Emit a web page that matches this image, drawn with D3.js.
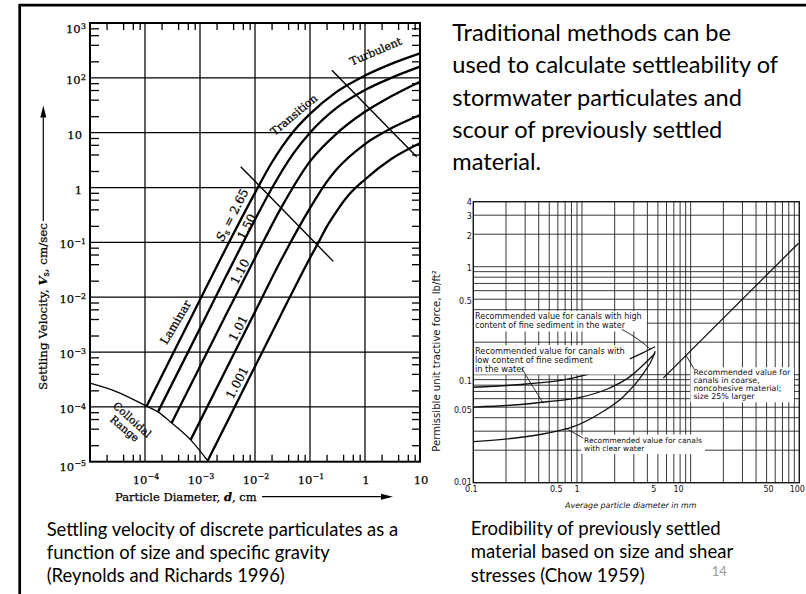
<!DOCTYPE html>
<html>
<head>
<meta charset="utf-8">
<script src="https://cdn.jsdelivr.net/npm/d3@7/dist/d3.min.js"></script>
<style>
  html, body { margin: 0; padding: 0; background: #fff; }
  svg { display: block; }
</style>
</head>
<body>
<svg id="slide" width="806" height="594" xmlns="http://www.w3.org/2000/svg"></svg>
<script>
// ---------- Settling velocity: particle diameter d (cm) vs Vs (cm/s) ----------
const settleXTicks = [1e-4, 1e-3, 1e-2, 1e-1, 1, 10];
const settleXTickBase = ["10", "10", "10", "10", "1", "10"];
const settleXTickExp = ["−4", "−3", "−2", "−1", "", ""];
const settleYTicks = [1e3, 1e2, 10, 1, 1e-1, 1e-2, 1e-3, 1e-4, 1e-5];
const settleYTickBase = ["10", "10", "10", "1", "10", "10", "10", "10", "10"];
const settleYTickExp = ["3", "2", "", "", "−1", "−2", "−3", "−4", "−5"];
const gravityNames = ["2.65", "1.50", "1.10", "1.01", "1.001"];
const vsGravity265 = [[1.07e-4, 1.03e-4], [3e-4, 8.1e-4], [1e-3, 9.0e-3], [3e-3, 0.08], [0.01, 0.8], [0.02, 2.8], [0.05, 10.5], [0.1, 22], [0.3, 55], [1, 110], [3, 180], [10, 280]];
const vsGravity150 = [[1.72e-4, 8.1e-5], [1e-3, 2.7e-3], [3e-3, 0.0245], [0.01, 0.26], [0.02, 0.95], [0.05, 4.2], [0.1, 10], [0.3, 28], [1, 60], [3, 100], [10, 160]];
const vsGravity110 = [[3.05e-4, 5.1e-5], [1e-3, 5.45e-4], [3e-3, 4.9e-3], [0.01, 0.052], [0.03, 0.43], [0.1, 3.0], [0.3, 9.5], [1, 24], [3, 46], [10, 85]];
const vsGravity101 = [[6.76e-4, 2.5e-5], [3e-3, 4.9e-4], [0.01, 5.4e-3], [0.03, 0.048], [0.1, 0.42], [0.2, 1.25], [0.3, 2.1], [1, 6.2], [3, 12], [10, 21]];
const vsGravity1001 = [[1.38e-3, 1.04e-5], [0.01, 5.45e-4], [0.03, 4.9e-3], [0.1, 0.052], [0.15, 0.11], [0.2, 0.19], [0.3, 0.36], [0.5, 0.72], [1, 1.4], [3, 3.3], [10, 6.4]];
const colloidalEdge = [[1e-5, 2.7e-4], [3e-5, 1.9e-4], [1.07e-4, 1.03e-4], [1.72e-4, 8.1e-5], [3.05e-4, 5.1e-5], [6.76e-4, 2.5e-5], [1.38e-3, 1.04e-5]];
const laminarLimit = [[0.0055, 2.4], [0.265, 0.045]];
const turbulentLimit = [[0.25, 138], [8.7, 3.65]];

// ---------- Permissible unit tractive force (lb/ft²) vs average diameter (mm) ----------
const forceXTicks = [0.1, 0.5, 1, 5, 10, 50, 100];
const forceXTickLabels = ["0.1", "0.5", "1", "5", "10", "50", "100"];
const forceYTicks = [4, 3, 2, 1, 0.5, 0.1, 0.05, 0.01];
const forceYTickLabels = ["4", "3", "2", "1", "0.5", "0.1", "0.05", "0.01"];
const highFineSediment = [[0.1, 0.0765], [0.233, 0.0803], [0.674, 0.0894], [1.37, 0.1067], [2.4, 0.132], [3.67, 0.16], [4.71, 0.1816]];
const lowFineSediment = [[0.1, 0.0502], [0.233, 0.0524], [0.474, 0.0562], [0.96, 0.0617], [1.69, 0.0733], [2.77, 0.096], [4.24, 0.142], [4.71, 0.158]];
const clearWater = [[0.1, 0.024], [0.233, 0.0258], [0.474, 0.0287], [0.833, 0.033], [1.47, 0.044], [2.4, 0.0626], [3.67, 0.103], [4.53, 0.147], [4.71, 0.165]];
const coarseNoncohesive = [[5.6, 0.093], [98.4, 1.65]];

// ---------- slide text ----------
const bodyLines = ["Traditional methods can be", "used to calculate settleability of", "stormwater particulates and", "scour of previously settled", "material."];
const captionLeft = ["Settling velocity of discrete particulates as a", "function of size and specific gravity", "(Reynolds and Richards 1996)"];
const captionRight = ["Erodibility of previously settled", "material based on size and shear", "stresses (Chow 1959)"];
const pageNumber = "14";

const svg = d3.select("#slide");
svg.append("rect").attr("width", 806).attr("height", 594).attr("fill", "#fff");

// top and left rules of the slide
svg.append("path").attr("d", "M19.7,594V5.2H806")
  .attr("fill", "none").attr("stroke", "#000").attr("stroke-width", 2.7);

// lays out a block of lines, sizing the font so line `ref` spans `width` px
function fitLines(parent, lines, x, y0, step, family, ref, width, attrs) {
  const g = parent.append("g").attr("font-family", family);
  Object.entries(attrs || {}).forEach(([k, v]) => g.attr(k, v));
  const ts = lines.map((s, i) => g.append("text").attr("x", x).attr("y", y0 + i * step)
    .attr("font-size", 20).text(s));
  const size = 20 * width / ts[ref].node().getComputedTextLength();
  ts.forEach(t => t.attr("font-size", size));
  return { g, ts, size };
}

function bareAxis(sel, w) {
  sel.select(".domain").remove();
  sel.selectAll(".tick text").remove();
  sel.selectAll(".tick line").attr("stroke", "#000").attr("stroke-width", w);
}

// =================== settling velocity chart ===================
const serif = "'DejaVu Serif', 'Liberation Serif', serif";
const LX = d3.scaleLog().domain([1e-5, 10]).range([90, 420]);
const LY = d3.scaleLog().domain([1e-5, 1e3]).range([461.7, 23]);
const [lx0, lx1] = LX.range();
const [ly1, ly0] = LY.range();
const gL = svg.append("g");

// decade grid
gL.append("g").selectAll("line").data(settleXTicks.filter(v => v > 1e-5 && v < 10)).join("line")
  .attr("x1", d => LX(d)).attr("x2", d => LX(d)).attr("y1", ly0).attr("y2", ly1)
  .attr("stroke", "#000").attr("stroke-width", 1.25);
gL.append("g").selectAll("line").data(settleYTicks.filter(v => v > 1e-5 && v < 1e3)).join("line")
  .attr("x1", lx0).attr("x2", lx1).attr("y1", d => LY(d)).attr("y2", d => LY(d))
  .attr("stroke", "#000").attr("stroke-width", 1.25);

// inward minor ticks on all four sides
const minorMult = [2, 4, 6, 8];
const xMinor = d3.range(-5, 1).flatMap(k => minorMult.map(m => m * Math.pow(10, k)));
const yMinor = d3.range(-5, 3).flatMap(k => minorMult.map(m => m * Math.pow(10, k)));
gL.append("g").attr("transform", `translate(0,${ly0})`)
  .call(d3.axisBottom(LX).tickValues(xMinor).tickSize(7).tickFormat("")).call(bareAxis, 1.3);
gL.append("g").attr("transform", `translate(0,${ly1})`)
  .call(d3.axisTop(LX).tickValues(xMinor).tickSize(7).tickFormat("")).call(bareAxis, 1.3);
gL.append("g").attr("transform", `translate(${lx0},0)`)
  .call(d3.axisRight(LY).tickValues(yMinor).tickSize(9).tickFormat("")).call(bareAxis, 1.3);
gL.append("g").attr("transform", `translate(${lx1},0)`)
  .call(d3.axisLeft(LY).tickValues(yMinor).tickSize(8).tickFormat("")).call(bareAxis, 1.3);

// frame
gL.append("rect").attr("x", lx0).attr("y", ly0).attr("width", lx1 - lx0).attr("height", ly1 - ly0)
  .attr("fill", "none").attr("stroke", "#000").attr("stroke-width", 2);

const settleLine = d3.line().x(d => LX(d[0])).y(d => LY(d[1])).curve(d3.curveMonotoneX);
const settleSeries = [vsGravity265, vsGravity150, vsGravity110, vsGravity101, vsGravity1001];
const gCurves = gL.append("g");
gCurves.selectAll("path.sg").data(settleSeries).join("path").attr("class", "sg")
  .attr("d", settleLine).attr("fill", "none").attr("stroke", "#000")
  .attr("stroke-width", 2.3).attr("stroke-linejoin", "round");
gCurves.append("path").datum(colloidalEdge).attr("d", settleLine)
  .attr("fill", "none").attr("stroke", "#000").attr("stroke-width", 1.3);
const straight = d3.line().x(d => LX(d[0])).y(d => LY(d[1]));
[laminarLimit, turbulentLimit].forEach(seg =>
  gCurves.append("path").datum(seg).attr("d", straight)
    .attr("fill", "none").attr("stroke", "#000").attr("stroke-width", 1.4));

// a slightly heavy serif, like the printed nomograph lettering
const inkText = sel => sel.attr("font-family", serif).attr("fill", "#000")
  .attr("stroke", "#000").attr("stroke-width", 0.25);

// tick labels: "10" with a raised exponent
function powerLabel(sel, base, exp) {
  sel.append("tspan").text(base);
  if (exp) sel.append("tspan").attr("font-size", "0.68em").attr("dy", "-0.55em").attr("dx", "0.05em").text(exp);
}
const tickFont = 11.5;
gL.append("g").call(inkText).attr("font-size", tickFont).attr("text-anchor", "middle")
  .selectAll("text").data(settleXTicks).join("text")
  .attr("x", d => LX(d) + 1).attr("y", ly1 + 22)
  .each(function (d, i) { powerLabel(d3.select(this), settleXTickBase[i], settleXTickExp[i]); });
const yLabelNudge = [4, 0, 0, 0, 0, 0, 0, 0, 3];
gL.append("g").call(inkText).attr("font-size", tickFont).attr("text-anchor", "end")
  .selectAll("text").data(settleYTicks).join("text")
  .attr("x", (d, i) => lx0 - (settleYTickExp[i] ? 4 : 8)).attr("y", (d, i) => LY(d) + 6 + yLabelNudge[i])
  .each(function (d, i) { powerLabel(d3.select(this), settleYTickBase[i], settleYTickExp[i]); });

// axis titles with arrows
const xTitle = gL.append("text").call(inkText).attr("font-size", 10.5)
  .attr("x", 115).attr("y", 500.5);
xTitle.append("tspan").text("Particle Diameter, ");
xTitle.append("tspan").attr("font-style", "italic").attr("font-weight", "bold").text("d");
xTitle.append("tspan").text(", cm");
xTitle.attr("font-size", 10.5 * 141.7 / xTitle.node().getComputedTextLength());
gL.append("line").attr("x1", 262).attr("x2", 384).attr("y1", 496.7).attr("y2", 496.7)
  .attr("stroke", "#000").attr("stroke-width", 1.2);
gL.append("path").attr("d", "M393,496.7L381,493.7L381,499.7Z").attr("fill", "#000");

const yTitle = gL.append("text").call(inkText).attr("font-size", 10.5)
  .attr("text-anchor", "middle").attr("transform", "translate(46.5,306.5) rotate(-90)");
yTitle.append("tspan").text("Settling Velocity, ");
yTitle.append("tspan").attr("font-style", "italic").attr("font-weight", "bold").text("V");
yTitle.append("tspan").attr("font-size", "0.7em").attr("dy", 2.5).text("s");
yTitle.append("tspan").attr("dy", -2.5).text(", cm/sec");
yTitle.attr("font-size", 10.5 * 167 / yTitle.node().getComputedTextLength());
gL.append("line").attr("x1", 43.3).attr("x2", 43.3).attr("y1", 221).attr("y2", 115)
  .attr("stroke", "#000").attr("stroke-width", 1.2);
gL.append("path").attr("d", "M43.3,105.5L40.3,117.5L46.3,117.5Z").attr("fill", "#000");

// region and gravity labels, anchored in data units
function rotLabel(d, v, angle, size) {
  return gL.append("text").call(inkText).attr("font-size", size)
    .attr("text-anchor", "middle").attr("dominant-baseline", "central")
    .attr("transform", `translate(${LX(d)},${LY(v)}) rotate(${angle})`);
}
{
  const t = rotLabel(3.86e-3, 0.315, -63, 12);
  t.append("tspan").attr("font-style", "italic").text("S");
  t.append("tspan").attr("font-size", "0.7em").attr("dy", 3).text("s");
  t.append("tspan").attr("dy", -3).text(" = " + gravityNames[0]);
}
rotLabel(7.07e-3, 0.193, -63, 12).text(gravityNames[1]);
rotLabel(5.34e-3, 0.0292, -62, 12).text(gravityNames[2]);
rotLabel(4.97e-3, 2.71e-3, -62, 12).text(gravityNames[3]);
rotLabel(4.77e-3, 2.76e-4, -62, 12).text(gravityNames[4]);
rotLabel(3.6e-4, 3.5e-3, -59, 11.5).text("Laminar");
rotLabel(0.0512, 21, -40, 11).text("Transition");
rotLabel(1.57, 300, -23, 11).text("Turbulent");
rotLabel(5.9e-5, 5.9e-5, 42, 10.5).text("Colloidal");
rotLabel(4.3e-5, 4.06e-5, 40, 10.5).text("Range");

// =================== tractive force chart ===================
const sans = "'DejaVu Sans', 'Liberation Sans', sans-serif";
const RX = d3.scaleLog().domain([0.1, 100]).range([473.3, 799.3]);
const RY = d3.scaleLog().domain([0.01, 4]).range([482.7, 201.7]);
const [rx0, rx1] = RX.range();
const [ry1, ry0] = RY.range();
const gR = svg.append("g");

const xGrid = d3.range(-1, 2).flatMap(k => d3.range(1, 10).map(m => m * Math.pow(10, k))).concat([100]);
const yGrid = d3.range(-2, 0).flatMap(k => d3.range(1, 10).map(m => m * Math.pow(10, k))).concat([1, 2, 3, 4]);
gR.append("g").selectAll("line").data(xGrid).join("line")
  .attr("x1", d => RX(d)).attr("x2", d => RX(d)).attr("y1", ry0).attr("y2", ry1)
  .attr("stroke", "#222").attr("stroke-width", 0.9);
gR.append("g").selectAll("line").data(yGrid).join("line")
  .attr("x1", rx0).attr("x2", rx1).attr("y1", d => RY(d)).attr("y2", d => RY(d))
  .attr("stroke", "#222").attr("stroke-width", 0.9);
gR.append("rect").attr("x", rx0).attr("y", ry0).attr("width", rx1 - rx0).attr("height", ry1 - ry0)
  .attr("fill", "none").attr("stroke", "#111").attr("stroke-width", 1.2);

const forceLine = d3.line().x(d => RX(d[0])).y(d => RY(d[1])).curve(d3.curveMonotoneX);
gR.append("g").selectAll("path").data([highFineSediment, lowFineSediment, clearWater, coarseNoncohesive]).join("path")
  .attr("d", forceLine).attr("fill", "none").attr("stroke", "#111").attr("stroke-width", 1.3);

// annotation notes on white panels, with leaders to their curves
const notes = [
  { lines: ["Recommended value for canals with high", "content of fine sediment in the water"],
    at: [0.1037, 0.328], step: 9.5, width: 167, leader: [[2.33, 0.263], [3.3, 0.215], [4.26, 0.172]] },
  { lines: ["Recommended value for canals with", "low content of fine sediment", "in the water"],
    at: [0.1037, 0.1545], step: 8.6, width: 150, leader: [[0.279, 0.1147], [0.36, 0.075], [0.441, 0.0544]] },
  { lines: ["Recommended value for", "canals in coarse,", "noncohesive material;", "size 25% larger"],
    at: [10.6, 0.0988], step: 8, width: 97, leader: [[10.77, 0.113], [9.1, 0.15]] },
  { lines: ["Recommended value for canals", "with clear water"],
    at: [1.045, 0.0235], step: 8.4, width: 118, leader: [[1.03, 0.0258], [0.699, 0.0322]] }
];
notes.forEach(n => {
  const panel = gR.append("rect").attr("fill", "#fff");
  const blk = fitLines(gR, n.lines, RX(n.at[0]), RY(n.at[1]), n.step, sans, 0, n.width, { fill: "#111" });
  const bb = blk.g.node().getBBox();
  panel.attr("x", Math.max(bb.x - 3, rx0 + 0.8)).attr("y", bb.y - 1)
    .attr("width", bb.width + 6).attr("height", bb.height + 2);
  gR.append("path").datum(n.leader).attr("d", d3.line().x(d => RX(d[0])).y(d => RY(d[1])).curve(d3.curveBasis))
    .attr("fill", "none").attr("stroke", "#111").attr("stroke-width", 0.9);
});

// tick labels
const xNudge = [-2, 7, -5, -4, -12, 2, -2];
gR.append("g").attr("font-family", sans).attr("font-size", 8).attr("text-anchor", "middle").attr("fill", "#111")
  .selectAll("text").data(forceXTicks).join("text")
  .attr("x", (d, i) => RX(d) + xNudge[i]).attr("y", ry1 + 9.5).text((d, i) => forceXTickLabels[i]);
const yNudge = [0, 1, 2, 1.5, 1.5, 6, 3, -1];
gR.append("g").attr("font-family", sans).attr("font-size", 8).attr("text-anchor", "end").attr("fill", "#111")
  .selectAll("text").data(forceYTicks).join("text")
  .attr("x", rx0 - 1.5).attr("y", (d, i) => RY(d) + yNudge[i] + 3).text((d, i) => forceYTickLabels[i]);

// axis titles
{
  const t = gR.append("text").attr("font-family", sans).attr("font-style", "italic").attr("font-size", 8)
    .attr("text-anchor", "middle").attr("x", 630.8).attr("y", 508).attr("fill", "#111")
    .text("Average particle diameter in mm");
  t.attr("font-size", 8 * 131.7 / t.node().getComputedTextLength());
  const u = gR.append("text").attr("font-family", sans).attr("font-size", 8)
    .attr("text-anchor", "middle").attr("transform", "translate(440,361) rotate(-90)").attr("fill", "#111")
    .text("Permissible unit tractive force, lb/ft²");
  u.attr("font-size", 8 * 182 / u.node().getComputedTextLength());
}

// =================== slide text ===================
const slideFont = "Lato, 'Open Sans', sans-serif";
fitLines(svg, bodyLines, 452.3, 41, 32.3, slideFont, 1, 326, { fill: "#000" });
fitLines(svg, captionLeft, 46.7, 535.7, 23, slideFont, 0, 351.7, { fill: "#000" });
fitLines(svg, captionRight, 470.7, 535, 23.3, slideFont, 1, 262.7, { fill: "#000" });
svg.append("text").attr("x", 711.7).attr("y", 575.5).attr("font-family", slideFont)
  .attr("font-size", 13).attr("fill", "#9a9a9a").text(pageNumber);
</script>
</body>
</html>
